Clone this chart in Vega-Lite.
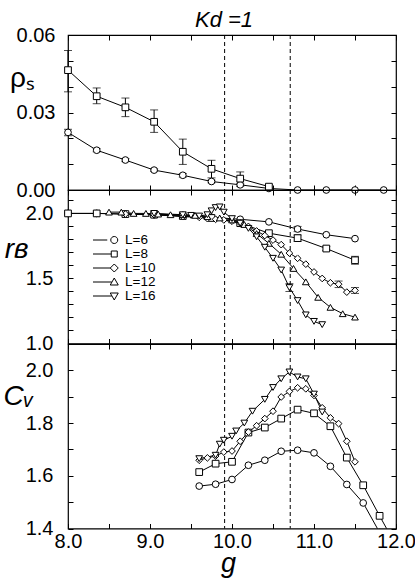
{
  "$schema": "https://vega.github.io/schema/vega-lite/v6.json",
  "padding": {"left": 2, "top": 8, "right": 5, "bottom": 0},
  "config": {
    "font": "Liberation Sans",
    "view": {"stroke": "black", "strokeWidth": 1.2},
    "axis": {"domain": false, "grid": false, "tickColor": "black", "tickSize": -5, "tickWidth": 1, "labelColor": "black", "labelFont": "Liberation Sans", "labelFontSize": 20, "labelFlush": false, "labelOverlap": false, "labelBound": false, "titleColor": "black", "titleFont": "Liberation Sans", "titleFontWeight": "normal"},
    "legend": {"labelFont": "Liberation Sans"}
  },
  "resolve": {"scale": {"shape": "independent"}, "legend": {"shape": "independent"}},
  "datasets": {
    "vlines": [{"g": 9.91}, {"g": 10.71}],
    "rho": [
      {"L": "L=6", "g": 8.0, "v": 0.0223}, {"L": "L=6", "g": 8.35, "v": 0.0154}, {"L": "L=6", "g": 8.7, "v": 0.0116}, {"L": "L=6", "g": 9.05, "v": 0.0077}, {"L": "L=6", "g": 9.4, "v": 0.0057}, {"L": "L=6", "g": 9.75, "v": 0.0033}, {"L": "L=6", "g": 10.1, "v": 0.002}, {"L": "L=6", "g": 10.45, "v": 0.0006}, {"L": "L=6", "g": 10.8, "v": 0}, {"L": "L=6", "g": 11.15, "v": 0}, {"L": "L=6", "g": 11.5, "v": 0}, {"L": "L=6", "g": 11.85, "v": 0},
      {"L": "L=8", "g": 8.0, "v": 0.0464}, {"L": "L=8", "g": 8.35, "v": 0.0363}, {"L": "L=8", "g": 8.7, "v": 0.032}, {"L": "L=8", "g": 9.05, "v": 0.0264}, {"L": "L=8", "g": 9.4, "v": 0.0148}, {"L": "L=8", "g": 9.75, "v": 0.0082}, {"L": "L=8", "g": 10.1, "v": 0.0044}, {"L": "L=8", "g": 10.45, "v": 0.0013}
    ],
    "rho_err": [
      {"g": 8.0, "lo": 0.038, "hi": 0.054}, {"g": 8.35, "lo": 0.0334, "hi": 0.0395}, {"g": 8.7, "lo": 0.0284, "hi": 0.0356}, {"g": 9.05, "lo": 0.0223, "hi": 0.031}, {"g": 9.4, "lo": 0.0099, "hi": 0.0197}, {"g": 9.75, "lo": 0.0047, "hi": 0.0115}, {"g": 10.1, "lo": 0.0021, "hi": 0.007}, {"g": 10.45, "lo": 0.0005, "hi": 0.0021},
      {"g": 8.0, "lo": 0.021, "hi": 0.0235}, {"g": 8.35, "lo": 0.0148, "hi": 0.016}, {"g": 8.7, "lo": 0.011, "hi": 0.0122}, {"g": 9.05, "lo": 0.0072, "hi": 0.0082}, {"g": 9.4, "lo": 0.005, "hi": 0.0064}, {"g": 9.75, "lo": 0.0028, "hi": 0.0038}, {"g": 10.1, "lo": 0.0014, "hi": 0.0026}
    ],
    "rb": [
      {"L": "L=6", "g": 8.0, "v": 2.0}, {"L": "L=6", "g": 8.35, "v": 2.0}, {"L": "L=6", "g": 8.7, "v": 1.995}, {"L": "L=6", "g": 9.05, "v": 1.99}, {"L": "L=6", "g": 9.4, "v": 1.985}, {"L": "L=6", "g": 9.75, "v": 1.97}, {"L": "L=6", "g": 10.1, "v": 1.955}, {"L": "L=6", "g": 10.45, "v": 1.935}, {"L": "L=6", "g": 10.8, "v": 1.88}, {"L": "L=6", "g": 11.15, "v": 1.836}, {"L": "L=6", "g": 11.5, "v": 1.806},
      {"L": "L=8", "g": 8.0, "v": 2.0}, {"L": "L=8", "g": 8.35, "v": 2.0}, {"L": "L=8", "g": 8.7, "v": 1.995}, {"L": "L=8", "g": 9.05, "v": 1.99}, {"L": "L=8", "g": 9.4, "v": 1.98}, {"L": "L=8", "g": 9.75, "v": 1.965}, {"L": "L=8", "g": 10.1, "v": 1.925}, {"L": "L=8", "g": 10.45, "v": 1.848}, {"L": "L=8", "g": 10.8, "v": 1.81}, {"L": "L=8", "g": 11.15, "v": 1.73}, {"L": "L=8", "g": 11.5, "v": 1.64},
      {"L": "L=10", "g": 8.7, "v": 1.995}, {"L": "L=10", "g": 9.05, "v": 1.99}, {"L": "L=10", "g": 9.4, "v": 1.975}, {"L": "L=10", "g": 9.6, "v": 1.97}, {"L": "L=10", "g": 9.7, "v": 1.96}, {"L": "L=10", "g": 9.8, "v": 1.955}, {"L": "L=10", "g": 9.9, "v": 1.95}, {"L": "L=10", "g": 10.0, "v": 1.94}, {"L": "L=10", "g": 10.1, "v": 1.925}, {"L": "L=10", "g": 10.2, "v": 1.9}, {"L": "L=10", "g": 10.3, "v": 1.865}, {"L": "L=10", "g": 10.4, "v": 1.83}, {"L": "L=10", "g": 10.5, "v": 1.795}, {"L": "L=10", "g": 10.6, "v": 1.76}, {"L": "L=10", "g": 10.7, "v": 1.695}, {"L": "L=10", "g": 10.8, "v": 1.655}, {"L": "L=10", "g": 10.9, "v": 1.61}, {"L": "L=10", "g": 11.0, "v": 1.55}, {"L": "L=10", "g": 11.1, "v": 1.5}, {"L": "L=10", "g": 11.2, "v": 1.467}, {"L": "L=10", "g": 11.3, "v": 1.456}, {"L": "L=10", "g": 11.4, "v": 1.395}, {"L": "L=10", "g": 11.5, "v": 1.408},
      {"L": "L=12", "g": 8.5, "v": 2.01}, {"L": "L=12", "g": 8.65, "v": 2.01}, {"L": "L=12", "g": 8.8, "v": 2.0}, {"L": "L=12", "g": 8.95, "v": 2.0}, {"L": "L=12", "g": 9.1, "v": 1.995}, {"L": "L=12", "g": 9.25, "v": 1.99}, {"L": "L=12", "g": 9.4, "v": 1.99}, {"L": "L=12", "g": 9.55, "v": 1.985}, {"L": "L=12", "g": 9.7, "v": 1.975}, {"L": "L=12", "g": 9.85, "v": 1.965}, {"L": "L=12", "g": 10.0, "v": 1.95}, {"L": "L=12", "g": 10.15, "v": 1.915}, {"L": "L=12", "g": 10.3, "v": 1.845}, {"L": "L=12", "g": 10.45, "v": 1.77}, {"L": "L=12", "g": 10.6, "v": 1.686}, {"L": "L=12", "g": 10.75, "v": 1.577}, {"L": "L=12", "g": 10.9, "v": 1.474}, {"L": "L=12", "g": 11.05, "v": 1.355}, {"L": "L=12", "g": 11.2, "v": 1.278}, {"L": "L=12", "g": 11.35, "v": 1.229}, {"L": "L=12", "g": 11.5, "v": 1.203},
      {"L": "L=16", "g": 9.05, "v": 2.0}, {"L": "L=16", "g": 9.4, "v": 1.99}, {"L": "L=16", "g": 9.5, "v": 1.985}, {"L": "L=16", "g": 9.6, "v": 1.98}, {"L": "L=16", "g": 9.7, "v": 1.99}, {"L": "L=16", "g": 9.75, "v": 2.02}, {"L": "L=16", "g": 9.8, "v": 2.045}, {"L": "L=16", "g": 9.85, "v": 2.05}, {"L": "L=16", "g": 9.9, "v": 2.01}, {"L": "L=16", "g": 10.0, "v": 1.96}, {"L": "L=16", "g": 10.1, "v": 1.925}, {"L": "L=16", "g": 10.2, "v": 1.885}, {"L": "L=16", "g": 10.3, "v": 1.82}, {"L": "L=16", "g": 10.4, "v": 1.74}, {"L": "L=16", "g": 10.5, "v": 1.655}, {"L": "L=16", "g": 10.6, "v": 1.565}, {"L": "L=16", "g": 10.7, "v": 1.43}, {"L": "L=16", "g": 10.8, "v": 1.33}, {"L": "L=16", "g": 10.9, "v": 1.22}, {"L": "L=16", "g": 11.0, "v": 1.17}, {"L": "L=16", "g": 11.1, "v": 1.145}
    ],
    "rb_err": [
      {"g": 10.8, "lo": 1.86, "hi": 1.9}, {"g": 10.8, "lo": 1.785, "hi": 1.835}, {"g": 11.15, "lo": 1.715, "hi": 1.745}, {"g": 11.5, "lo": 1.61, "hi": 1.67}, {"g": 11.3, "lo": 1.43, "hi": 1.48}, {"g": 11.5, "lo": 1.385, "hi": 1.43}, {"g": 10.7, "lo": 1.4, "hi": 1.46}
    ],
    "cv": [
      {"L": "L=6", "g": 9.6, "v": 1.561}, {"L": "L=6", "g": 9.8, "v": 1.568}, {"L": "L=6", "g": 10.0, "v": 1.586}, {"L": "L=6", "g": 10.2, "v": 1.64}, {"L": "L=6", "g": 10.4, "v": 1.659}, {"L": "L=6", "g": 10.6, "v": 1.693}, {"L": "L=6", "g": 10.8, "v": 1.697}, {"L": "L=6", "g": 11.0, "v": 1.687}, {"L": "L=6", "g": 11.2, "v": 1.636}, {"L": "L=6", "g": 11.4, "v": 1.567}, {"L": "L=6", "g": 11.6, "v": 1.497}, {"L": "L=6", "g": 11.8, "v": 1.385},
      {"L": "L=8", "g": 9.6, "v": 1.614}, {"L": "L=8", "g": 9.8, "v": 1.646}, {"L": "L=8", "g": 10.0, "v": 1.653}, {"L": "L=8", "g": 10.2, "v": 1.764}, {"L": "L=8", "g": 10.4, "v": 1.783}, {"L": "L=8", "g": 10.6, "v": 1.817}, {"L": "L=8", "g": 10.8, "v": 1.851}, {"L": "L=8", "g": 11.0, "v": 1.837}, {"L": "L=8", "g": 11.2, "v": 1.788}, {"L": "L=8", "g": 11.4, "v": 1.669}, {"L": "L=8", "g": 11.6, "v": 1.564}, {"L": "L=8", "g": 11.8, "v": 1.448}, {"L": "L=8", "g": 12.0, "v": 1.335},
      {"L": "L=10", "g": 9.6, "v": 1.659}, {"L": "L=10", "g": 9.7, "v": 1.668}, {"L": "L=10", "g": 9.8, "v": 1.675}, {"L": "L=10", "g": 9.9, "v": 1.69}, {"L": "L=10", "g": 10.0, "v": 1.694}, {"L": "L=10", "g": 10.1, "v": 1.731}, {"L": "L=10", "g": 10.2, "v": 1.766}, {"L": "L=10", "g": 10.3, "v": 1.79}, {"L": "L=10", "g": 10.4, "v": 1.817}, {"L": "L=10", "g": 10.5, "v": 1.845}, {"L": "L=10", "g": 10.6, "v": 1.899}, {"L": "L=10", "g": 10.7, "v": 1.92}, {"L": "L=10", "g": 10.8, "v": 1.934}, {"L": "L=10", "g": 10.9, "v": 1.93}, {"L": "L=10", "g": 11.0, "v": 1.905}, {"L": "L=10", "g": 11.1, "v": 1.858}, {"L": "L=10", "g": 11.2, "v": 1.82}, {"L": "L=10", "g": 11.3, "v": 1.798}, {"L": "L=10", "g": 11.4, "v": 1.731}, {"L": "L=10", "g": 11.5, "v": 1.653},
      {"L": "L=16", "g": 9.6, "v": 1.665}, {"L": "L=16", "g": 9.8, "v": 1.678}, {"L": "L=16", "g": 9.85, "v": 1.72}, {"L": "L=16", "g": 9.9, "v": 1.735}, {"L": "L=16", "g": 10.0, "v": 1.75}, {"L": "L=16", "g": 10.05, "v": 1.77}, {"L": "L=16", "g": 10.15, "v": 1.8}, {"L": "L=16", "g": 10.25, "v": 1.845}, {"L": "L=16", "g": 10.4, "v": 1.89}, {"L": "L=16", "g": 10.5, "v": 1.935}, {"L": "L=16", "g": 10.6, "v": 1.968}, {"L": "L=16", "g": 10.7, "v": 1.994}, {"L": "L=16", "g": 10.8, "v": 1.975}, {"L": "L=16", "g": 10.9, "v": 1.968}, {"L": "L=16", "g": 11.0, "v": 1.91}, {"L": "L=16", "g": 11.1, "v": 1.842}
    ]
  },
  "vconcat": [
    {
      "width": 328, "height": 155,
      "title": {"text": "Kd =1", "fontStyle": "italic", "fontWeight": "normal", "fontSize": 22, "font": "Liberation Sans", "color": "black", "anchor": "middle", "frame": "group", "dx": -8, "offset": -7},
      "layer": [
        {"data": {"name": "vlines"}, "mark": {"type": "rule", "strokeDash": [4, 3], "color": "black", "strokeWidth": 1},
         "encoding": {"x": {"field": "g", "type": "quantitative", "scale": {"domain": [8, 12], "nice": false}, "axis": null}}},
        {"data": {"name": "rho_err"}, "mark": {"type": "rule", "color": "black", "strokeWidth": 1},
         "encoding": {"x": {"field": "g", "type": "quantitative", "scale": {"domain": [8, 12], "nice": false}, "axis": null},
                      "y": {"field": "lo", "type": "quantitative", "scale": {"domain": [0, 0.06], "nice": false}, "axis": null}, "y2": {"field": "hi"}}},
        {"data": {"name": "rho_err"}, "mark": {"type": "tick", "orient": "horizontal", "size": 8, "thickness": 1, "color": "black"},
         "encoding": {"x": {"field": "g", "type": "quantitative", "scale": {"domain": [8, 12], "nice": false}, "axis": null},
                      "y": {"field": "lo", "type": "quantitative", "scale": {"domain": [0, 0.06], "nice": false}, "axis": null}}},
        {"data": {"name": "rho_err"}, "mark": {"type": "tick", "orient": "horizontal", "size": 8, "thickness": 1, "color": "black"},
         "encoding": {"x": {"field": "g", "type": "quantitative", "scale": {"domain": [8, 12], "nice": false}, "axis": null},
                      "y": {"field": "hi", "type": "quantitative", "scale": {"domain": [0, 0.06], "nice": false}, "axis": null}}},
        {"data": {"name": "rho"}, "mark": {"type": "line", "color": "black", "strokeWidth": 1},
         "encoding": {"x": {"field": "g", "type": "quantitative", "scale": {"domain": [8, 12], "nice": false}, "axis": {"orient": "bottom", "values": [8, 8.5, 9, 9.5, 10, 10.5, 11, 11.5, 12], "labels": false, "title": null}},
                      "y": {"field": "v", "type": "quantitative", "scale": {"domain": [0, 0.06], "nice": false},
                            "axis": {"orient": "left", "values": [0, 0.01, 0.02, 0.03, 0.04, 0.05, 0.06], "labelExpr": "(datum.value === 0 || datum.value === 0.03 || datum.value === 0.06) ? format(datum.value, '.2f') : ''", "labelPadding": 18,
                                     "title": "ρₛ", "titleAngle": 0, "titleFontSize": 28, "titleX": -46, "titleY": 43, "titleAlign": "center", "titleBaseline": "middle"}},
                      "detail": {"field": "L"}, "order": {"field": "g"}}},
        {"data": {"name": "rho"}, "mark": {"type": "point", "filled": true, "fill": "white", "stroke": "black", "strokeWidth": 1, "size": 45, "opacity": 1},
         "encoding": {"x": {"field": "g", "type": "quantitative", "scale": {"domain": [8, 12], "nice": false}, "axis": {"orient": "top", "values": [8, 8.5, 9, 9.5, 10, 10.5, 11, 11.5, 12], "labels": false, "title": null}},
                      "y": {"field": "v", "type": "quantitative", "scale": {"domain": [0, 0.06], "nice": false}, "axis": {"orient": "right", "values": [0, 0.01, 0.02, 0.03, 0.04, 0.05, 0.06], "labels": false, "title": null}},
                      "shape": {"field": "L", "type": "nominal", "scale": {"domain": ["L=6", "L=8", "L=10", "L=12", "L=16"], "range": ["circle", "square", "diamond", "triangle-up", "triangle-down"]}, "legend": null}}}
      ],
      "resolve": {"axis": {"x": "independent", "y": "independent"}}
    },
    {
      "width": 328, "height": 153.5,
      "layer": [
        {"data": {"name": "vlines"}, "mark": {"type": "rule", "strokeDash": [4, 3], "color": "black", "strokeWidth": 1},
         "encoding": {"x": {"field": "g", "type": "quantitative", "scale": {"domain": [8, 12], "nice": false}, "axis": null}}},
        {"data": {"name": "rb_err"}, "mark": {"type": "rule", "color": "black", "strokeWidth": 1},
         "encoding": {"x": {"field": "g", "type": "quantitative", "scale": {"domain": [8, 12], "nice": false}, "axis": null},
                      "y": {"field": "lo", "type": "quantitative", "scale": {"domain": [1.0, 2.18], "nice": false, "zero": false}, "axis": null}, "y2": {"field": "hi"}}},
        {"data": {"name": "rb_err"}, "mark": {"type": "tick", "orient": "horizontal", "size": 8, "thickness": 1, "color": "black"},
         "encoding": {"x": {"field": "g", "type": "quantitative", "scale": {"domain": [8, 12], "nice": false}, "axis": null},
                      "y": {"field": "lo", "type": "quantitative", "scale": {"domain": [1.0, 2.18], "nice": false, "zero": false}, "axis": null}}},
        {"data": {"name": "rb_err"}, "mark": {"type": "tick", "orient": "horizontal", "size": 8, "thickness": 1, "color": "black"},
         "encoding": {"x": {"field": "g", "type": "quantitative", "scale": {"domain": [8, 12], "nice": false}, "axis": null},
                      "y": {"field": "hi", "type": "quantitative", "scale": {"domain": [1.0, 2.18], "nice": false, "zero": false}, "axis": null}}},
        {"data": {"name": "rb"}, "mark": {"type": "line", "color": "black", "strokeWidth": 1},
         "encoding": {"x": {"field": "g", "type": "quantitative", "scale": {"domain": [8, 12], "nice": false}, "axis": {"orient": "bottom", "values": [8, 8.5, 9, 9.5, 10, 10.5, 11, 11.5, 12], "labels": false, "title": null}},
                      "y": {"field": "v", "type": "quantitative", "scale": {"domain": [1.0, 2.18], "nice": false, "zero": false},
                            "axis": {"orient": "left", "values": [1, 1.1, 1.2, 1.3, 1.4, 1.5, 1.6, 1.7, 1.8, 1.9, 2, 2.1], "labelExpr": "(datum.value === 1 || datum.value === 1.5 || datum.value === 2) ? format(datum.value, '.1f') : ''", "labelPadding": 20,
                                     "title": "rʙ", "titleAngle": 0, "titleFontSize": 28, "titleFontStyle": "italic", "titleX": -52, "titleY": 59, "titleAlign": "center", "titleBaseline": "middle"}},
                      "detail": {"field": "L"}, "order": {"field": "g"}}},
        {"data": {"name": "rb"}, "mark": {"type": "point", "filled": true, "fill": "white", "stroke": "black", "strokeWidth": 1, "size": 45, "opacity": 1},
         "encoding": {"x": {"field": "g", "type": "quantitative", "scale": {"domain": [8, 12], "nice": false}, "axis": {"orient": "top", "values": [8, 8.5, 9, 9.5, 10, 10.5, 11, 11.5, 12], "labels": false, "title": null}},
                      "y": {"field": "v", "type": "quantitative", "scale": {"domain": [1.0, 2.18], "nice": false, "zero": false}, "axis": {"orient": "right", "values": [1, 1.1, 1.2, 1.3, 1.4, 1.5, 1.6, 1.7, 1.8, 1.9, 2, 2.1], "labels": false, "title": null}},
                      "shape": {"field": "L", "type": "nominal", "scale": {"domain": ["L=6", "L=8", "L=10", "L=12", "L=16"], "range": ["circle", "square", "diamond", "triangle-up", "triangle-down"]}, "legend": null}}},
        {"data": {"name": "rb"}, "transform": [{"filter": "datum.g > 100"}],
         "mark": {"type": "point", "filled": false, "stroke": "black", "strokeWidth": 1, "opacity": 1},
         "encoding": {"x": {"field": "g", "type": "quantitative", "scale": {"domain": [8, 12], "nice": false}, "axis": null},
                      "y": {"field": "v", "type": "quantitative", "scale": {"domain": [1.0, 2.18], "nice": false, "zero": false}, "axis": null},
                      "shape": {"field": "L", "type": "nominal",
                                "scale": {"domain": ["L=6", "L=8", "L=10", "L=12", "L=16"],
                                          "range": ["M-7.5,0L7.5,0M-18,0A3.5,3.5 0 1,0 -11,0A3.5,3.5 0 1,0 -18,0ZM11,0A3.5,3.5 0 1,0 18,0A3.5,3.5 0 1,0 11,0Z",
                                                    "M-11.5,0L11.5,0M-17.5,-3L-11.5,-3L-11.5,3L-17.5,3ZM11.5,-3L17.5,-3L17.5,3L11.5,3Z",
                                                    "M-10.5,0L10.5,0M-18.5,0L-14.5,-4L-10.5,0L-14.5,4ZM10.5,0L14.5,-4L18.5,0L14.5,4Z",
                                                    "M-12,0L12,0M-14.5,-4L-10.5,3L-18.5,3ZM14.5,-4L18.5,3L10.5,3Z",
                                                    "M-12,0L12,0M-14.5,4L-10.5,-3L-18.5,-3ZM14.5,4L18.5,-3L10.5,-3Z"]},
                                "legend": {"orient": "none", "legendX": 25, "legendY": 43, "title": null, "padding": 0, "symbolSize": 4, "labelFontSize": 13.5, "labelColor": "black", "labelOffset": 18.5, "clipHeight": 14, "rowPadding": 0, "symbolStrokeColor": "black", "symbolStrokeWidth": 1, "symbolFillColor": "white", "symbolOpacity": 1,
                                           "encode": {"symbols": {"update": {"fill": {"value": "white"}, "stroke": {"value": "black"}, "strokeWidth": {"value": 1}, "opacity": {"value": 1}}}}}}}}
      ],
      "resolve": {"axis": {"x": "independent", "y": "independent"}, "scale": {"shape": "independent"}}
    },
    {
      "width": 328, "height": 184.5,
      "layer": [
        {"data": {"name": "vlines"}, "mark": {"type": "rule", "strokeDash": [4, 3], "color": "black", "strokeWidth": 1},
         "encoding": {"x": {"field": "g", "type": "quantitative", "scale": {"domain": [8, 12], "nice": false}, "axis": null}}},
        {"data": {"name": "cv"}, "mark": {"type": "line", "color": "black", "strokeWidth": 1, "clip": true},
         "encoding": {"x": {"field": "g", "type": "quantitative", "scale": {"domain": [8, 12], "nice": false},
                            "axis": {"orient": "bottom", "values": [8, 8.5, 9, 9.5, 10, 10.5, 11, 11.5, 12], "labelExpr": "datum.value % 1 === 0 ? format(datum.value, '.1f') : ''", "labelPadding": 8,
                                     "title": "g", "titleFontSize": 27, "titleFontStyle": "italic", "titleX": 160, "titleY": 43, "titleAlign": "center", "titleBaseline": "alphabetic"}},
                      "y": {"field": "v", "type": "quantitative", "scale": {"domain": [1.4, 2.1], "nice": false, "zero": false},
                            "axis": {"orient": "left", "values": [1.4, 1.5, 1.6, 1.7, 1.8, 1.9, 2, 2.1], "labelExpr": "(datum.value === 1.4 || datum.value === 1.6 || datum.value === 1.8 || datum.value === 2) ? format(datum.value, '.1f') : ''", "labelPadding": 20,
                                     "title": "Cᵥ", "titleAngle": 0, "titleFontSize": 28, "titleFontStyle": "italic", "titleX": -50, "titleY": 52, "titleAlign": "center", "titleBaseline": "middle"}},
                      "detail": {"field": "L"}, "order": {"field": "g"}}},
        {"data": {"name": "cv"}, "mark": {"type": "point", "filled": true, "fill": "white", "stroke": "black", "strokeWidth": 1, "size": 45, "opacity": 1, "clip": true},
         "encoding": {"x": {"field": "g", "type": "quantitative", "scale": {"domain": [8, 12], "nice": false}, "axis": {"orient": "top", "values": [8, 8.5, 9, 9.5, 10, 10.5, 11, 11.5, 12], "labels": false, "title": null}},
                      "y": {"field": "v", "type": "quantitative", "scale": {"domain": [1.4, 2.1], "nice": false, "zero": false}, "axis": {"orient": "right", "values": [1.4, 1.5, 1.6, 1.7, 1.8, 1.9, 2, 2.1], "labels": false, "title": null}},
                      "shape": {"field": "L", "type": "nominal", "scale": {"domain": ["L=6", "L=8", "L=10", "L=12", "L=16"], "range": ["circle", "square", "diamond", "triangle-up", "triangle-down"]}, "legend": null}}}
      ],
      "resolve": {"axis": {"x": "independent", "y": "independent"}}
    }
  ],
  "spacing": 0,
  "bounds": "flush"
}
